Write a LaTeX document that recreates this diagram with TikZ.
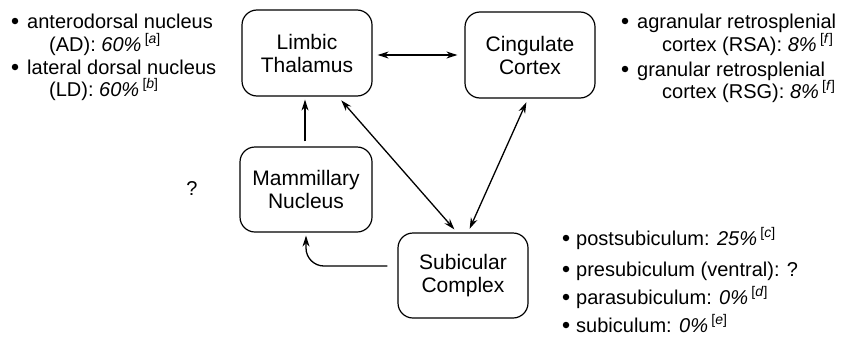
\documentclass[tikz,border=0pt]{standalone}
\usepackage{fontspec}
\setmainfont{Liberation Sans}
\usetikzlibrary{arrows.meta,calc}
\newcommand{\refm}[1]{\,\raisebox{0.4em}{\fontsize{14}{14}\selectfont[\textit{#1}]}}
\begin{document}
\begin{tikzpicture}[x=1pt,y=-1pt,
  box/.style={draw,line width=1.2pt,rounded corners=15pt,minimum width=130pt,minimum height=86pt,
    align=center,inner sep=0pt,font=\fontsize{21}{23}\selectfont},
  txt/.style={anchor=base west,inner sep=0pt,font=\fontsize{20}{22}\selectfont},
  bul/.style={circle,fill,inner sep=0pt,minimum size=6.5pt,yshift=7pt},
  arr/.style={line width=1.3pt,-{Stealth[length=11pt,width=7pt]}},
  darr/.style={line width=1.3pt,{Stealth[length=11pt,width=7pt]}-{Stealth[length=11pt,width=7pt]}}]
\useasboundingbox (0,0) rectangle (842,343);
% boxes
\node[box] (LT) at (307,53) {Limbic\\Thalamus};
\node[box] (CC) at (530,55) {Cingulate\\Cortex};
\node[box,minimum width=132pt,minimum height=85pt] (MN) at (306,189.5) {Mammillary\\Nucleus};
\node[box,minimum height=85pt] (SC) at (463,275.5) {Subicular\\Complex};
% connectors
\draw[darr,shorten <=5pt,shorten >=7pt] ([yshift=-2pt]LT.east) -- (CC.west);
\draw[arr,shorten <=5pt,shorten >=3pt] ([xshift=-1pt]MN.north) -- ([xshift=-2pt]LT.south);
\draw[darr,shorten <=5pt,shorten >=4pt] ([xshift=31pt]LT.south) -- ([xshift=-6pt]SC.north);
\draw[darr,shorten <=4pt,shorten >=4pt] ([xshift=-2pt]CC.south) -- ([xshift=5pt]SC.north);
\draw[arr,rounded corners=18pt,shorten <=10pt,shorten >=3pt] ([yshift=9.5pt]SC.west) -| (MN.south);
% question mark
\node[txt,anchor=base] (q) at (192,195) {?};
% left texts
\node[bul] (lb1) at (15,28) {};
\node[txt] (l1) at (27,28) {anterodorsal nucleus};
\node[txt] (l2) at (49,51) {(AD): \textit{60\%}\refm{a}};
\node[bul] (lb2) at (15,74) {};
\node[txt] (l3) at (27,74) {lateral dorsal nucleus};
\node[txt] (l4) at (49,96) {(LD): \textit{60\%}\refm{b}};
% right texts
\node[bul] (rb1) at (625,28) {};
\node[txt] (r1) at (637,28) {agranular retrosplenial};
\node[txt] (r2) at (662,51) {cortex (RSA): \textit{8\%}\refm{f}};
\node[bul] (rb2) at (625,76) {};
\node[txt] (r3) at (637,76) {granular retrosplenial};
\node[txt] (r4) at (662,98) {cortex (RSG): \textit{8\%}\refm{f}};
% bottom right texts
\node[bul] (bb1) at (566,245) {};
\node[txt] (b1) at (576,245) {postsubiculum: \textit{25\%}\refm{c}};
\node[bul] (bb2) at (566,276) {};
\node[txt] (b2) at (576,276) {presubiculum (ventral): ?};
\node[bul] (bb3) at (566,304) {};
\node[txt] (b3) at (576,304) {parasubiculum: \textit{0\%}\refm{d}};
\node[bul] (bb4) at (566,332) {};
\node[txt] (b4) at (576,332) {subiculum: \textit{0\%}\refm{e}};
\end{tikzpicture}
\end{document}
